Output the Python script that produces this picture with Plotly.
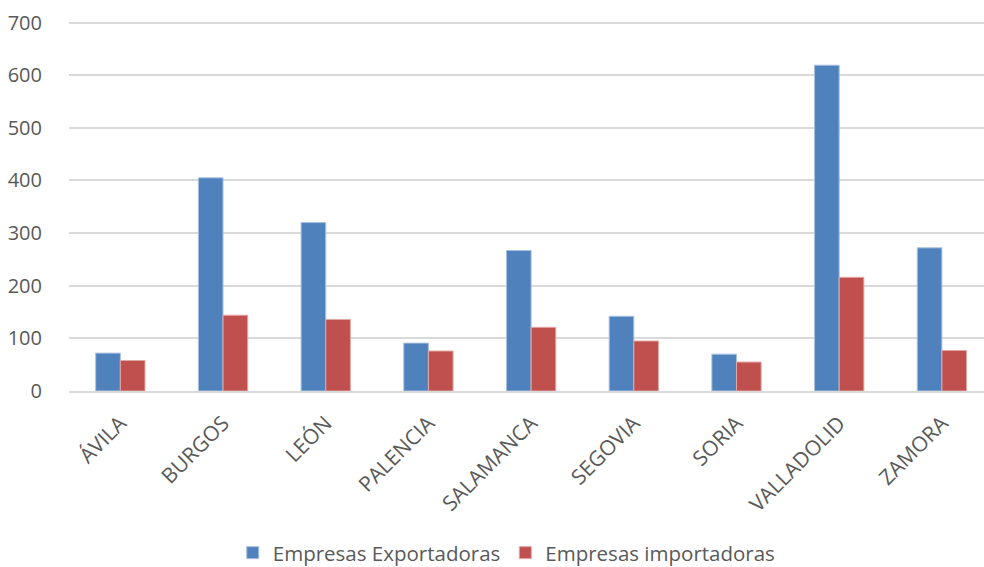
import plotly.graph_objects as go

provincias = ["ÁVILA", "BURGOS", "LEÓN", "PALENCIA", "SALAMANCA",
              "SEGOVIA", "SORIA", "VALLADOLID", "ZAMORA"]
exportadoras = [72, 405, 320, 91, 267, 142, 70, 619, 272]
importadoras = [58, 144, 136, 76, 121, 95, 55, 216, 77]
y_ticks = [0, 100, 200, 300, 400, 500, 600, 700]

_FONT = "Open Sans"
_TEXT = "#595959"
_GRID = "#d9d9d9"

fig = go.Figure()
fig.add_trace(go.Bar(
    x=provincias, y=exportadoras, name="Empresas Exportadoras",
    marker=dict(color="#4f81bd", line=dict(color="#a9c1e1", width=1)),
))
fig.add_trace(go.Bar(
    x=provincias, y=importadoras, name="Empresas importadoras",
    marker=dict(color="#c0504d", line=dict(color="#e3a7a5", width=1)),
))

fig.update_layout(
    width=984, height=567,
    template="plotly_white",
    plot_bgcolor="white", paper_bgcolor="white",
    barmode="group", bargap=0.52, bargroupgap=0,
    margin=dict(l=69, r=0, t=21, b=176),
    font=dict(family=_FONT, color=_TEXT, size=20),
    legend=dict(
        orientation="h", xref="container", yref="container",
        x=0.515, y=0.025, xanchor="center", yanchor="middle",
        font=dict(size=20.5, color=_TEXT), itemwidth=30,
        traceorder="normal",
    ),
    showlegend=True,
)
fig.update_xaxes(
    range=[-0.5, 8.41], tickangle=-45,
    ticks="outside", ticklen=10, tickcolor="rgba(0,0,0,0)",
    tickfont=dict(size=21, color=_TEXT),
    showgrid=False, showline=True, linecolor=_GRID, linewidth=1.5,
)
fig.update_yaxes(
    range=[0, 703], tickvals=y_ticks,
    ticks="outside", ticklen=22, tickcolor="rgba(0,0,0,0)",
    tickfont=dict(size=20, color=_TEXT),
    showgrid=True, gridcolor=_GRID, gridwidth=1.5,
    zeroline=False, showline=False,
)

# the page's default body margin shifts the chart; drop it
fig.write_html("out.html", config={"displayModeBar": False},
               post_script="document.body.style.margin='0';")
